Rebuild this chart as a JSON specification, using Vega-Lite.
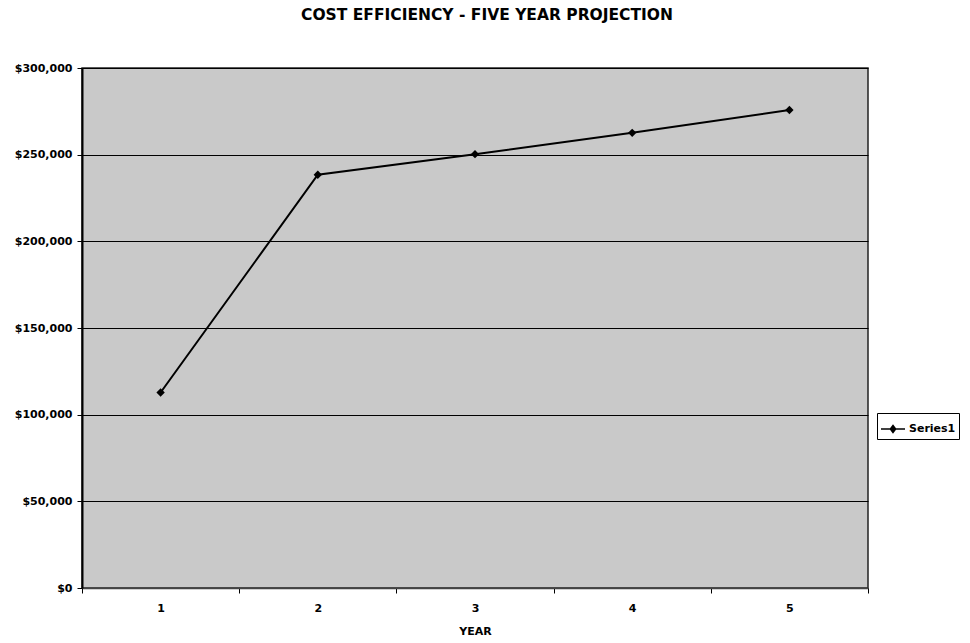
{
  "$schema": "https://vega.github.io/schema/vega-lite/v6.json",
  "width": 786,
  "height": 520,
  "autosize": "none",
  "padding": {"left": 82, "top": 68, "right": 102, "bottom": 55},
  "background": "white",
  "title": {
    "text": "COST EFFICIENCY - FIVE YEAR PROJECTION",
    "font": "DejaVu Sans",
    "fontSize": 15.5,
    "fontWeight": "bold",
    "color": "black",
    "anchor": "middle",
    "dx": 12,
    "offset": 39
  },
  "data": {
    "values": [
      {"year": "1", "cost": 112800, "series": "Series1"},
      {"year": "2", "cost": 238400, "series": "Series1"},
      {"year": "3", "cost": 250300, "series": "Series1"},
      {"year": "4", "cost": 262600, "series": "Series1"},
      {"year": "5", "cost": 275800, "series": "Series1"}
    ]
  },
  "mark": {
    "type": "line",
    "strokeWidth": 2,
    "point": {"shape": "diamond", "size": 70, "filled": true, "opacity": 1}
  },
  "encoding": {
    "x": {
      "field": "year",
      "type": "ordinal",
      "scale": {"type": "band", "paddingInner": 0, "paddingOuter": 0},
      "axis": {
        "title": "YEAR",
        "labelAngle": 0,
        "tickBand": "extent",
        "tickSize": 5,
        "tickColor": "black",
        "domainColor": "#444",
        "domainWidth": 1.5,
        "labelPadding": 9,
        "titlePadding": 12,
        "grid": false
      }
    },
    "y": {
      "field": "cost",
      "type": "quantitative",
      "scale": {"domain": [0, 300000], "nice": false},
      "axis": {
        "title": null,
        "values": [0, 50000, 100000, 150000, 200000, 250000, 300000],
        "format": "$,.0f",
        "tickSize": 5,
        "tickColor": "black",
        "labelPadding": 5,
        "domainColor": "black",
        "domainWidth": 2,
        "grid": true,
        "gridColor": "black",
        "gridWidth": 1,
        "gridOpacity": 1
      }
    },
    "color": {
      "field": "series",
      "type": "nominal",
      "scale": {"range": ["black"]},
      "legend": {
        "title": null,
        "orient": "none",
        "legendX": 795,
        "legendY": 345,
        "strokeColor": "black",
        "padding": 3,
        "symbolType": "M-1,0L1,0M0,-0.3L0.22,0L0,0.3L-0.22,0Z",
        "symbolSize": 576,
        "symbolStrokeWidth": 1.5,
        "symbolFillColor": "black",
        "symbolStrokeColor": "black",
        "labelFont": "DejaVu Sans",
        "labelFontSize": 11,
        "labelFontWeight": "bold",
        "labelColor": "black",
        "labelOffset": 3
      }
    }
  },
  "config": {
    "view": {"fill": "#c9c9c9", "stroke": "#222", "strokeWidth": 1.5},
    "axis": {
      "labelFont": "DejaVu Sans",
      "labelFontSize": 11,
      "labelFontWeight": "bold",
      "labelColor": "black",
      "titleFont": "DejaVu Sans",
      "titleFontSize": 11,
      "titleFontWeight": "bold",
      "titleColor": "black"
    }
  }
}
